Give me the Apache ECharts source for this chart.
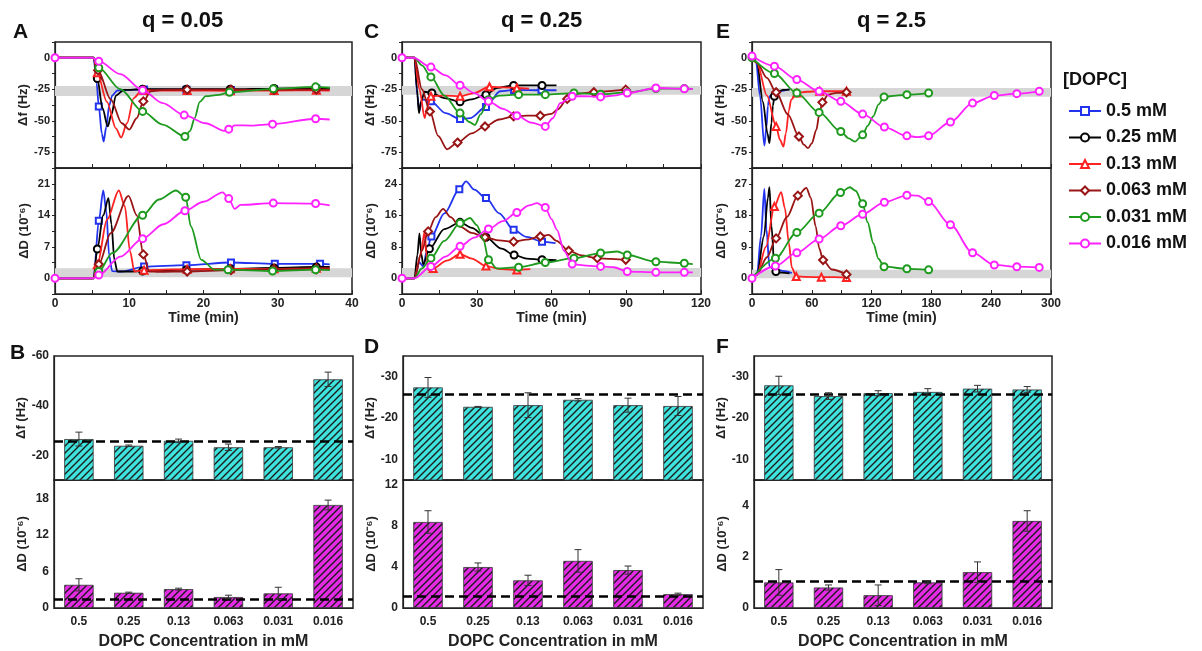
<!DOCTYPE html>
<html>
<head>
<meta charset="utf-8">
<script src="https://cdn.jsdelivr.net/npm/echarts@6/dist/echarts.min.js"></script>
<style>
html, body { margin: 0; background: #fff; }
#chart { width: 1202px; height: 651px; }
</style>
</head>
<body>
<div id="chart"></div>
<script>
// ---- legend / series names ----
const names = ['0.5 mM', '0.25 mM', '0.13 mM', '0.063 mM', '0.031 mM', '0.016 mM'];
const cats = ['0.5', '0.25', '0.13', '0.063', '0.031', '0.016'];

// ---- time traces: [time (min), value, marker?] ----
// q = 0.05, Δf (Hz)
const A_df_05 = [[0,0],[5.2,0],[5.6,-20],[5.9,-38.6,1],[6.3,-60],[6.55,-66.5],[6.9,-55],[7.3,-38],[7.7,-30],[8.4,-26],[10,-25.5],[12,-25.2,1],[17.7,-25.3,1],[23.7,-25.5,1],[29.5,-25,1],[35.2,-24.5,1],[37,-24.5]];
const A_df_025 = [[0,0],[5.2,0],[5.7,-16.5,1],[6.4,-40],[7.1,-54.5],[7.6,-45],[8.2,-30],[9.3,-25.5],[11.8,-25,1],[17.7,-25,1],[23.6,-25,1],[29.5,-24.5,1],[35.2,-24.3,1],[37,-24.3]];
const A_df_013 = [[0,0],[5.2,0],[5.7,-12,1],[7,-35],[8.2,-56],[8.9,-63.3],[9.7,-52],[10.6,-32],[11.6,-26.5],[12,-26,1],[17.8,-26,1],[23.6,-26.2,1],[29.5,-26,1],[35.2,-25.8,1],[37,-26]];
const A_df_0063 = [[0,0],[5.2,0],[5.8,-10,1],[7.5,-33],[9,-52],[10,-57],[11,-48],[11.9,-34.6,1],[12.9,-26.6],[14.5,-25.5],[17.8,-25.3,1],[23.7,-25.4,1],[29.5,-25.5,1],[35.2,-25.2,1],[37,-25.3]];
const A_df_0031 = [[0,0],[5.2,0],[5.9,-8,1],[8.8,-25],[11.8,-42.6,1],[14.5,-53],[17.5,-62.5,1],[18.2,-58],[18.8,-48],[19.5,-35],[20.3,-30.5],[22,-29.5],[23.5,-27.4,1],[29.4,-24.7,1],[35.1,-23.1,1],[37,-23.8]];
const A_df_0016 = [[0,0,1],[5,0],[5.9,-2.7,1],[8.8,-13],[11.8,-25.8,1],[14.5,-36],[17.4,-45.5,1],[20.3,-52],[22.8,-58],[23.4,-56.7,1],[24.2,-53.7],[26.5,-53.8],[29.3,-52.7,1],[35.1,-48.4,1],[37,-49]];
// q = 0.05, ΔD (1e-6)
const A_dd_05 = [[0,0],[5.2,0],[5.9,12.8,1],[6.5,19.5],[6.9,15],[7.3,5],[7.7,1.6],[9,1.5],[12,2.6,1],[17.7,2.9,1],[23.7,3.5,1],[29.6,3.2,1],[35.7,3.2,1],[37,3.1]];
const A_dd_025 = [[0,0],[5.2,0],[5.7,6.5,1],[6.5,14],[7.2,17.8],[7.6,12],[8,4],[8.4,1.5],[10,1.5],[11.8,1.6,1],[17.7,1.9,1],[23.6,2.1,1],[29.5,2.3,1],[35.2,2.5,1],[37,2.5]];
const A_dd_013 = [[0,0],[5.2,0],[5.7,3,1],[7,13],[8.6,19.5],[9.4,16],[10.1,6],[10.7,1.5],[12,1.8,1],[17.8,2,1],[23.6,2.1,1],[29.5,2.1,1],[35.2,2.2,1],[37,2.2]];
const A_dd_0063 = [[0,0],[5.2,0],[5.9,3.1,1],[7.5,10],[9.9,18.3],[11,14],[11.9,5.3,1],[12.7,1.5],[14,1.4],[17.8,1.5,1],[23.7,1.8,1],[29.5,2,1],[35.2,2,1],[37,2]];
const A_dd_0031 = [[0,0],[5.2,0],[5.9,1.5,1],[7.7,5.6],[11.8,14,1],[14,17.5],[16.3,19.5],[17.6,18,1],[18.3,11.5],[19.7,4.1],[21.5,1.9],[23.3,1.9,1],[29.3,1.6,1],[35.1,1.9,1],[37,1.8]];
const A_dd_0016 = [[0,0,1],[5.2,0],[5.9,0.7,1],[8.8,4.8],[11.8,8.8,1],[14.6,12],[17.5,15,1],[20,17],[22.6,19.1],[23.4,17.7,1],[24.2,15.4],[25,16.3],[29.4,16.7,1],[35.1,16.6,1],[37,16.2]];

// q = 0.25, Δf
const C_df_05 = [[0,0],[5,0],[6.2,-30],[6.9,-42.6],[8,-33],[11.6,-34.6,1],[17.5,-44],[23.3,-48.7,1],[27.3,-47.9],[33.7,-39.1,1],[39.4,-26.6],[45,-25.5,1],[56,-25.8,1],[62,-25.8]];
const C_df_025 = [[0,0],[5,0],[6,-25],[6.8,-44],[7.6,-35],[9.1,-27],[12,-28,1],[17,-32],[23.3,-35,1],[28,-33],[33.7,-29.3,1],[38,-24],[44.8,-22,1],[56.2,-22,1],[62,-22]];
const C_df_013 = [[0,0],[5,0],[7,-25],[9.1,-47.9],[10,-40],[11.6,-30.6,1],[17,-30],[23.3,-30.6,1],[29,-28],[35.1,-23,1],[41,-23.5],[46.1,-24,1],[51,-24.5]];
const C_df_0063 = [[0,0],[5,0],[8,-25],[11.2,-42.6,1],[14.5,-62],[18.1,-72.6],[22.3,-67.3,1],[28,-60],[33.3,-54.5,1],[39,-49],[44.8,-46.5,1],[50,-46],[55.5,-46,1],[60,-44.5],[62.5,-41],[66.3,-32.7,1],[71,-28.5],[77,-27.4,1],[83,-26.5],[89.8,-25.3,1],[91,-25.3]];
const C_df_0031 = [[0,0],[5,0],[8,-6],[11.6,-15.2,1],[17,-30],[23.3,-43.9,1],[27,-51],[29.3,-53.2],[31.5,-45],[34.7,-33.3,1],[39,-30],[46.8,-29.3,1],[57.5,-29.3,1],[69,-28,1],[79.7,-29,1],[90.4,-27.5,1],[101.9,-24.5,1],[113.3,-24.5,1],[116.7,-24.7]];
const C_df_0016 = [[0,0,1],[4.5,0],[11.6,-7.4,1],[17.5,-14],[23.3,-21.8,1],[29,-28],[34.7,-34.6,1],[40.5,-40.5],[46.1,-46,1],[52,-51.5],[57.5,-54.5,1],[60.5,-48],[63.5,-36],[68.3,-30.6,1],[74,-30.5],[79.7,-31.1,1],[85,-30],[90.4,-28,1],[101.9,-24,1],[113.3,-24.7,1],[116.7,-24.7]];
// q = 0.25, ΔD
const C_dd_05 = [[0,0],[5,0],[7,4],[8.5,3],[10,7],[11.8,10.6,1],[17,16.5],[23,22.6,1],[25.7,24.6],[29,22.5],[33.7,20.4,1],[39,16.5],[44.8,12.3,1],[50,10.5],[56.2,9.3,1],[61.6,8.9]];
const C_dd_025 = [[0,0],[5,0],[6.2,6],[7,11.4],[7.8,6],[8.5,3.5],[11,7.5,1],[17,12.5],[23.3,14.2,1],[28,12.8],[33.7,10.4,1],[40,7.5],[45,5.9,1],[50,5],[56.2,4.7,1],[62,4.6]];
const C_dd_013 = [[0,0],[5,0],[7.5,6],[9.1,11.9],[9.8,6],[10.5,2.1],[12.5,2.5,1],[18,4.5],[23.3,6.1,1],[28,5],[33.7,3.1,1],[40,2.3],[46.1,2.1,1],[51.5,2.3]];
const C_dd_0063 = [[0,0],[5,0],[8,7],[10.5,11.9,1],[13.5,15.5],[16.5,17.6],[19.5,15.5],[23.3,13.1],[28,11.5],[33.3,10.4,1],[39,9.6],[44.8,9.3,1],[50,9.8],[55.5,10.6,1],[58.9,11],[62,9.5],[66.9,7,1],[72,5.8],[78.4,5.1,1],[84,4.9],[89.8,4.7,1],[91,4.6]];
const C_dd_0031 = [[0,0],[5,0],[8,2.5],[11.6,5.1,1],[17,9.5],[23.3,14,1],[27.3,15.3],[30,13.5],[32.7,9.8],[34.7,4.7,1],[38,2.5],[46.8,2.8,1],[57.5,4,1],[69,5.1,1],[79.7,6.4,1],[86.4,6.8],[90.4,5.9,1],[101.9,4.2,1],[113.3,3.8,1],[116.7,3.6]];
const C_dd_0016 = [[0,0,1],[5,0],[11.6,3,1],[17.5,5.5],[23.3,8.1,1],[29,10.3],[34.7,12.5,1],[40.5,14.5],[46.1,16.7,1],[51,18.5],[54.2,19.1],[57.5,18,1],[60,15],[62.2,12.3],[65,7],[68.3,3.6,1],[74,3.2],[79.7,3,1],[85,2.8],[90.4,1.7,1],[101.9,1.5,1],[113.3,1.5,1],[116.7,1.5]];

// q = 2.5, Δf
const E_df_05 = [[0,0],[4,-3],[8,-30],[12.4,-69.7],[14.5,-55],[16,-38],[17.5,-30.6],[22,-28.5],[28,-26.5],[37.7,-25]];
const E_df_025 = [[0,0],[5,-4],[11,-35],[15.5,-60],[17.5,-67.8],[19.5,-52],[21,-38],[22.5,-30.6,1],[27,-27],[31,-25.5],[37.7,-25.3]];
const E_df_013 = [[0,0],[5,-4],[15,-30],[24.2,-54.5,1],[28,-65],[31.6,-70.5],[34,-60],[37,-42],[39.3,-33.3],[45,-28,1],[55,-27],[68,-26.6,1],[82,-26.6],[94.8,-26.6,1]];
const E_df_0063 = [[0,0],[5,-4],[15,-16],[24.2,-27.4,1],[36,-45],[47.1,-62.5,1],[52,-69],[56.2,-71.8],[60,-68],[64.6,-57],[67.5,-45],[70.6,-35.4,1],[76.3,-29.3],[85,-27.8],[94.8,-27.4,1]];
const E_df_0031 = [[0,0,1],[22.5,-12.5,1],[45,-28,1],[67.3,-43.4,1],[89.1,-58.5,1],[97,-64],[103.2,-66.5],[111,-61.2,1],[116,-54],[121.7,-46.5],[127,-37],[132.5,-31.1,1],[144,-30],[155.4,-29.3,1],[177.2,-28,1]];
const E_df_0016 = [[0,1.3,1],[22.5,-6.7,1],[45,-17.3,1],[67.3,-26.6,1],[89.1,-34.6,1],[111,-44.7,1],[132.8,-55,1],[155.4,-62,1],[166,-63],[177.2,-62,1],[199.1,-51,1],[221.3,-36,1],[243.1,-30,1],[265.7,-28.5,1],[288.2,-26.6,1]];
// q = 2.5, ΔD
const E_dd_05 = [[0,0],[5,1],[9,12],[12.4,25.5],[14.5,14],[17.5,3.3],[22,2.6],[26,2.4],[33,2],[40,1.5]];
const E_dd_025 = [[0,0],[5,1],[12,12],[16,23],[17.5,26],[19.5,15],[22.5,3.3],[24,1.9,1],[30,1.6],[37.7,1.4]];
const E_dd_013 = [[0,0],[5,1],[14,9],[22.5,20.5,1],[29.3,24.6],[33,20],[37,10],[40,3],[44.4,0.5,1],[55,0.4],[69.6,0.3,1],[82,0.3],[94.8,0.2,1]];
const E_dd_0063 = [[0,0],[5,1],[15,6],[24.2,11.4,1],[35,17.5],[46,23.6,1],[54.5,25.8],[59,23],[63.9,14.8],[67.5,8.5],[71.3,5.2,1],[80,2.5],[94.8,1.1,1]];
const E_dd_0031 = [[0,0],[23.5,5.7,1],[45,13.1,1],[67.3,18.6,1],[88.8,24.5,1],[98.2,26],[104,25],[111,21.3,1],[116,16],[121.7,10],[127,5.5],[132.5,3.3,1],[155.4,2.7,1],[177.2,2.4,1]];
const E_dd_0016 = [[0,0,1],[23.5,3.5,1],[45,7.3,1],[67.3,11.2,1],[89.1,15,1],[111,18.3,1],[132.8,21.7,1],[155.4,23.7,1],[166,23.6],[177.2,21.9,1],[199.1,15.3,1],[221.3,7.3,1],[243.1,3.8,1],[265.7,3.3,1],[288.2,3.1,1]];

// grey reference bands [low, high]
const A_band_df = [-30.4, -22.4];
const A_band_dd = [0.2, 2.2];
const C_band_df = [-29.3, -22.4];
const C_band_dd = [0.3, 2.6];
const E_band_df = [-31, -24];
const E_band_dd = [0, 2.4];

// ---- final shifts (bar panels) ----
const B_df = [-26.5, -23.8, -25.8, -23.2, -23.2, -50.6];
const B_df_err = [2.8, 0.3, 0.7, 1.3, 0.3, 2.9];
const B_dd = [3.8, 2.5, 3.1, 1.8, 2.4, 16.9];
const B_dd_err = [1.0, 0.1, 0.15, 0.3, 1.0, 0.8];
const D_df = [-27.4, -22.7, -23.1, -24.4, -23.1, -22.9];
const D_df_err = [2.4, 0.1, 3.0, 0.3, 1.7, 2.3];
const D_dd = [8.4, 4.0, 2.7, 4.6, 3.7, 1.35];
const D_dd_err = [1.1, 0.4, 0.5, 1.1, 0.4, 0.1];
const F_df = [-27.9, -25.3, -26.0, -26.3, -27.1, -26.9];
const F_df_err = [2.2, 0.8, 0.6, 0.8, 0.8, 0.7];
const F_dd = [1.0, 0.8, 0.5, 1.0, 1.4, 3.4];
const F_dd_err = [0.5, 0.1, 0.4, 0.05, 0.4, 0.4];
const B_ref = [-25.8, 1.5];
const D_ref = [-25.8, 1.15];
const F_ref = [-25.8, 1.05];

// ---- styling ----
const FONT = 'Liberation Sans, Arial, sans-serif';
const colors = ['#2233ee', '#000000', '#ff2222', '#991515', '#1e9a1e', '#ff22ff'];
const symbols = ['emptyRect', 'emptyCircle', 'emptyTriangle', 'emptyDiamond', 'emptyCircle', 'emptyCircle'];
const symSizes = [6, 7, 7, 8, 7, 7];

const every = k => v => (Math.abs(v / k - Math.round(v / k)) < 1e-6 ? String(Math.round(v * 100) / 100) : '');

function hatch(fill) {
  const c = document.createElement('canvas');
  c.width = 7; c.height = 7;
  const g = c.getContext('2d');
  g.fillStyle = fill;
  g.fillRect(0, 0, 7, 7);
  g.strokeStyle = '#1c1c1c';
  g.lineWidth = 1.4;
  g.beginPath();
  g.moveTo(-1, 8); g.lineTo(8, -1);
  g.moveTo(-1, 1); g.lineTo(1, -1);
  g.moveTo(6, 8); g.lineTo(8, 6);
  g.stroke();
  return { image: c, repeat: 'repeat' };
}
const cyanHatch = hatch('#3fe3de');
const magHatch = hatch('#e52be5');

const lineCols = [
  { left: 55, width: 297, xMax: 40, xStep: 10,
    df: [A_df_05, A_df_025, A_df_013, A_df_0063, A_df_0031, A_df_0016],
    dd: [A_dd_05, A_dd_025, A_dd_013, A_dd_0063, A_dd_0031, A_dd_0016],
    bandDf: A_band_df, bandDd: A_band_dd, ddMin: -3.5, ddMax: 24.5, ddStep: 3.5, ddLab: 7 },
  { left: 402, width: 299, xMax: 120, xStep: 30,
    df: [C_df_05, C_df_025, C_df_013, C_df_0063, C_df_0031, C_df_0016],
    dd: [C_dd_05, C_dd_025, C_dd_013, C_dd_0063, C_dd_0031, C_dd_0016],
    bandDf: C_band_df, bandDd: C_band_dd, ddMin: -4, ddMax: 28, ddStep: 4, ddLab: 8 },
  { left: 752, width: 299, xMax: 300, xStep: 60,
    df: [E_df_05, E_df_025, E_df_013, E_df_0063, E_df_0031, E_df_0016],
    dd: [E_dd_05, E_dd_025, E_dd_013, E_dd_0063, E_dd_0031, E_dd_0016],
    bandDf: E_band_df, bandDd: E_band_dd, ddMin: -4.5, ddMax: 31.5, ddStep: 4.5, ddLab: 9 }
];

const barCols = [
  { left: 54, width: 299, df: B_df, dfErr: B_df_err, dd: B_dd, ddErr: B_dd_err, ref: B_ref,
    dfMin: -60, dfMax: -10, dfStep: 10, dfLab: 20, ddMax: 21, ddStep: 3, ddLab: 6 },
  { left: 403, width: 300, df: D_df, dfErr: D_df_err, dd: D_dd, ddErr: D_dd_err, ref: D_ref,
    dfMin: -35, dfMax: -5, dfStep: 5, dfLab: 10, ddMax: 12.5, ddStep: 2, ddLab: 4 },
  { left: 754, width: 298, df: F_df, dfErr: F_df_err, dd: F_dd, ddErr: F_dd_err, ref: F_ref,
    dfMin: -35, dfMax: -5, dfStep: 5, dfLab: 10, ddMax: 5, ddStep: 1, ddLab: 2 }
];

const grid = [], xAxis = [], yAxis = [], series = [];
const tickLabel = { fontFamily: FONT, fontWeight: 'bold', fontSize: 11, color: '#222' };
const nameStyle = { fontFamily: FONT, fontWeight: 'bold', fontSize: 13, color: '#222' };
const axisLine = { show: true, onZero: false, lineStyle: { color: '#222', width: 1.2 } };

function bandSeries(idx, band) {
  return {
    type: 'custom', xAxisIndex: idx, yAxisIndex: idx, silent: true, z: 1,
    data: [band],
    renderItem: (params, api) => {
      const cs = params.coordSys;
      const yLo = api.coord([0, api.value(0)])[1];
      const yHi = api.coord([0, api.value(1)])[1];
      return { type: 'rect', shape: { x: cs.x, y: yHi, width: cs.width, height: yLo - yHi },
        style: { fill: '#d6d6d6' } };
    }
  };
}

function traceSeries(idx, i, pts) {
  return {
    name: names[i], type: 'line', xAxisIndex: idx, yAxisIndex: idx,
    smooth: 0.3, smoothMonotone: 'x', showSymbol: true,
    symbol: symbols[i], symbolSize: symSizes[i],
    lineStyle: { color: colors[i], width: 1.8 },
    itemStyle: { color: colors[i], borderWidth: 1.2 },
    z: 3 + i,
    data: pts.map(p => (p[2] ? { value: [p[0], p[1]] } : { value: [p[0], p[1]], symbol: 'none' }))
  };
}

lineCols.forEach(c => {
  const iF = grid.length, iD = iF + 1;
  grid.push({ left: c.left, top: 42, width: c.width, height: 126, show: true, borderColor: '#222', borderWidth: 1.5 });
  grid.push({ left: c.left, top: 168, width: c.width, height: 126, show: true, borderColor: '#222', borderWidth: 1.5 });
  [iF, iD].forEach(gi => {
    xAxis.push({
      type: 'value', gridIndex: gi, min: 0, max: c.xMax, interval: c.xStep,
      axisLine, splitLine: { show: false },
      axisTick: { inside: true, length: 4, lineStyle: { color: '#222' } },
      minorTick: { show: true, splitNumber: 2, length: 4, lineStyle: { color: '#222' } },
      axisLabel: { show: gi === iD, margin: 4, ...tickLabel, fontSize: 12 },
      name: gi === iD ? 'Time (min)' : '', nameLocation: 'middle', nameGap: 17,
      nameTextStyle: { ...nameStyle, fontSize: 14 }
    });
  });
  yAxis.push({
    type: 'value', gridIndex: iF, min: -87.5, max: 12.5, interval: 12.5,
    axisLine, splitLine: { show: false },
    axisTick: { length: 3, lineStyle: { color: '#222' } },
    axisLabel: { formatter: every(25), margin: 5, ...tickLabel },
    name: 'Δf (Hz)', nameLocation: 'middle', nameGap: 24, nameTextStyle: nameStyle
  });
  yAxis.push({
    type: 'value', gridIndex: iD, min: c.ddMin, max: c.ddMax, interval: c.ddStep,
    axisLine, splitLine: { show: false },
    axisTick: { length: 3, lineStyle: { color: '#222' } },
    axisLabel: { formatter: every(c.ddLab), margin: 5, ...tickLabel },
    name: 'ΔD (10⁻⁶)', nameLocation: 'middle', nameGap: 24, nameTextStyle: nameStyle
  });
  series.push(bandSeries(iF, c.bandDf), bandSeries(iD, c.bandDd));
  c.df.forEach((pts, i) => series.push(traceSeries(iF, i, pts)));
  c.dd.forEach((pts, i) => series.push(traceSeries(iD, i, pts)));
});

function errSeries(idx, vals, errs) {
  return {
    type: 'custom', xAxisIndex: idx, yAxisIndex: idx, silent: true, z: 5,
    data: vals.map((v, i) => [i, v, errs[i]]),
    renderItem: (params, api) => {
      const x = api.value(0), v = api.value(1), e = api.value(2);
      const a = api.coord([x, v - e]), b = api.coord([x, v + e]);
      const st = { stroke: '#333', lineWidth: 1 };
      return { type: 'group', children: [
        { type: 'line', shape: { x1: a[0], y1: a[1], x2: b[0], y2: b[1] }, style: st },
        { type: 'line', shape: { x1: a[0] - 3.5, y1: a[1], x2: a[0] + 3.5, y2: a[1] }, style: st },
        { type: 'line', shape: { x1: b[0] - 3.5, y1: b[1], x2: b[0] + 3.5, y2: b[1] }, style: st }
      ] };
    }
  };
}

function barSeries(idx, vals, fill, ref) {
  return {
    type: 'bar', xAxisIndex: idx, yAxisIndex: idx, barWidth: '59%', clip: true,
    itemStyle: { color: fill, borderColor: '#333', borderWidth: 0.8 },
    data: vals,
    markLine: {
      silent: true, symbol: ['none', 'none'], label: { show: false },
      lineStyle: { color: '#000', type: [9, 5], width: 2.5 },
      data: [{ yAxis: ref }]
    }
  };
}

barCols.forEach(c => {
  const iF = grid.length, iD = iF + 1;
  grid.push({ left: c.left, top: 356, width: c.width, height: 124, show: true, borderColor: '#222', borderWidth: 1.5 });
  grid.push({ left: c.left, top: 480, width: c.width, height: 129, show: true, borderColor: '#222', borderWidth: 1.5 });
  [iF, iD].forEach(gi => {
    xAxis.push({
      type: 'category', gridIndex: gi, data: cats,
      axisLine, axisTick: { inside: true, alignWithLabel: true, length: 4, lineStyle: { color: '#222' } },
      axisLabel: { show: gi === iD, margin: 8, ...tickLabel, fontSize: 12 },
      name: gi === iD ? 'DOPC Concentration in mM' : '', nameLocation: 'middle', nameGap: 26,
      nameTextStyle: { ...nameStyle, fontSize: 16 }
    });
  });
  yAxis.push({
    type: 'value', gridIndex: iF, inverse: true, min: c.dfMin, max: c.dfMax, interval: c.dfStep,
    axisLine, splitLine: { show: false },
    axisTick: { length: 3, lineStyle: { color: '#222' } },
    axisLabel: { formatter: every(c.dfLab), margin: 5, ...tickLabel, fontSize: 12 },
    name: 'Δf (Hz)', nameLocation: 'middle', nameGap: 25, nameTextStyle: nameStyle
  });
  yAxis.push({
    type: 'value', gridIndex: iD, min: 0, max: c.ddMax, interval: c.ddStep,
    axisLine, splitLine: { show: false },
    axisTick: { length: 3, lineStyle: { color: '#222' } },
    axisLabel: { formatter: every(c.ddLab), margin: 5, ...tickLabel, fontSize: 12 },
    name: 'ΔD (10⁻⁶)', nameLocation: 'middle', nameGap: 25, nameTextStyle: nameStyle
  });
  series.push(barSeries(iF, c.df, cyanHatch, c.ref[0]), errSeries(iF, c.df, c.dfErr));
  series.push(barSeries(iD, c.dd, magHatch, c.ref[1]), errSeries(iD, c.dd, c.ddErr));
});

const letter = (t, x, y) => ({ type: 'text', left: x, top: y,
  style: { text: t, font: 'bold 21px ' + FONT, fill: '#111' } });

const option = {
  animation: false,
  backgroundColor: '#fff',
  grid, xAxis, yAxis, series,
  legend: {
    data: names, orient: 'vertical', left: 1063, top: 97,
    itemWidth: 32, itemHeight: 10, itemGap: 8.5, selectedMode: false,
    textStyle: { fontFamily: FONT, fontWeight: 'bold', fontSize: 18, color: '#111', lineHeight: 18 }
  },
  graphic: [
    letter('A', 13, 22), letter('B', 10, 343), letter('C', 364, 22),
    letter('D', 364, 337), letter('E', 716, 22), letter('F', 716, 337),
    { type: 'text', left: 142, top: 10, style: { text: 'q = 0.05', font: 'bold 22px ' + FONT, fill: '#111' } },
    { type: 'text', left: 501, top: 10, style: { text: 'q = 0.25', font: 'bold 22px ' + FONT, fill: '#111' } },
    { type: 'text', left: 857, top: 10, style: { text: 'q = 2.5', font: 'bold 22px ' + FONT, fill: '#111' } },
    { type: 'text', left: 1063, top: 71, style: { text: '[DOPC]', font: 'bold 18px ' + FONT, fill: '#111' } }
  ]
};

const chart = echarts.init(document.getElementById('chart'));
chart.setOption(option);
</script>
</body>
</html>
